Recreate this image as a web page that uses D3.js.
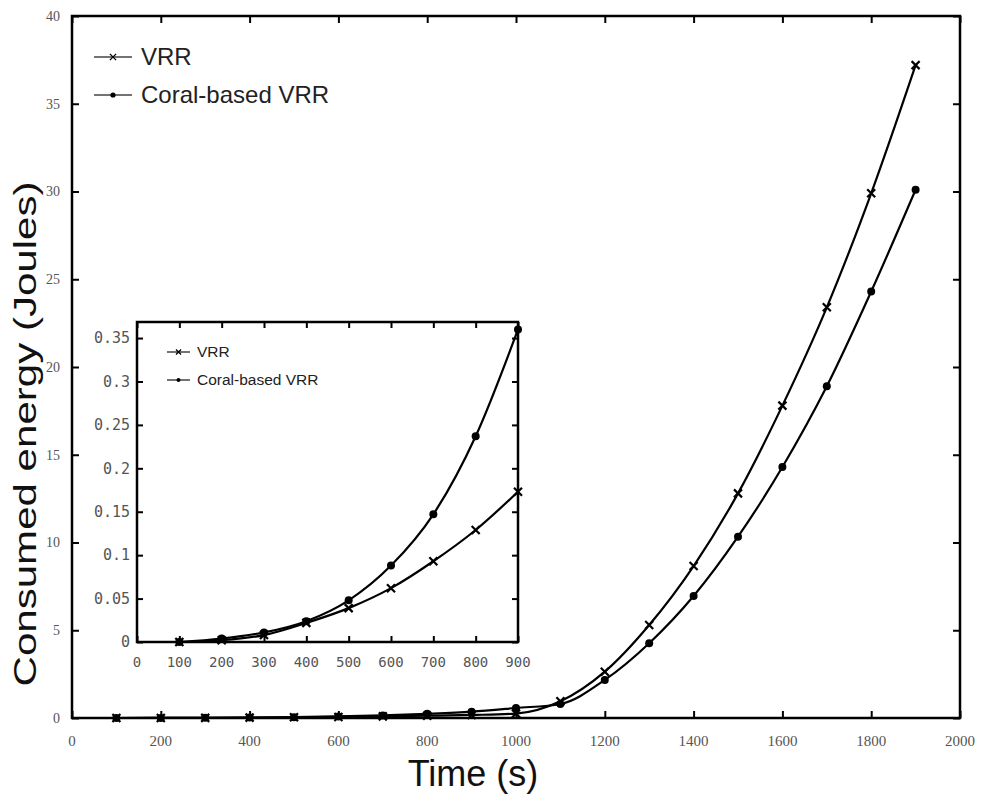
<!DOCTYPE html>
<html>
<head>
<meta charset="utf-8">
<script src="https://cdn.jsdelivr.net/npm/d3@7"></script>
<style>
  body { margin: 0; background: #fff; }
  svg { display: block; }
</style>
</head>
<body>
<div class="chart"></div>
<script>
// data
const times = [100, 200, 300, 400, 500, 600, 700, 800, 900, 1000, 1100, 1200, 1300, 1400, 1500, 1600, 1700, 1800, 1900];
const vrr   = [0, 0.002, 0.008, 0.022, 0.039, 0.062, 0.093, 0.129, 0.173, 0.25, 0.95, 2.64, 5.3, 8.66, 12.8, 17.8, 23.4, 29.9, 37.2];
const coral = [0, 0.004, 0.011, 0.024, 0.048, 0.088, 0.147, 0.237, 0.36, 0.57, 0.8, 2.17, 4.26, 6.95, 10.33, 14.3, 18.9, 24.3, 30.1];

const mainXTicks = [0, 200, 400, 600, 800, 1000, 1200, 1400, 1600, 1800, 2000];
const mainYTicks = [0, 5, 10, 15, 20, 25, 30, 35, 40];
const insetXTicks = [0, 100, 200, 300, 400, 500, 600, 700, 800, 900];
const insetYTicks = [0, 0.05, 0.1, 0.15, 0.2, 0.25, 0.3, 0.35];
const insetYLabels = ["0", "0.05", "0.1", "0.15", "0.2", "0.25", "0.3", "0.35"];

const seriesNames = ["VRR", "Coral-based VRR"];

window.onload = function () {

const svg = d3.select(".chart")
  .append("svg")
  .attr("width", 985)
  .attr("height", 794);

const rows = times.map((t, i) => ({ t: t, vrr: vrr[i], coral: coral[i] }));

const drawMarker = (g, kind, x, y, size, sw) => {
  if (kind === "x") {
    g.append("path")
      .attr("d", `M${x - size},${y - size}L${x + size},${y + size}M${x - size},${y + size}L${x + size},${y - size}`)
      .attr("stroke", "#000")
      .attr("stroke-width", sw || 2.2)
      .attr("fill", "none");
  } else {
    g.append("circle")
      .attr("cx", x).attr("cy", y).attr("r", size)
      .attr("fill", "#000");
  }
};

const drawPanel = (opt) => {
  const g = svg.append("g");
  const x = d3.scaleLinear().domain(opt.xDomain).range(opt.xRange);
  const y = d3.scaleLinear().domain(opt.yDomain).range(opt.yRange);

  g.append("rect")
    .attr("x", opt.xRange[0]).attr("y", opt.yRange[1])
    .attr("width", opt.xRange[1] - opt.xRange[0])
    .attr("height", opt.yRange[0] - opt.yRange[1])
    .attr("fill", "#fff");

  const data = rows.filter(d => d.t <= opt.xDomain[1]);

  const line = key => d3.line()
    .x(d => x(d.t))
    .y(d => y(d[key]))
    .curve(d3.curveMonotoneX);

  ["vrr", "coral"].forEach(key => {
    g.append("path")
      .datum(data)
      .attr("d", line(key))
      .attr("fill", "none")
      .attr("stroke", "#000")
      .attr("stroke-width", opt.lineWidth);
    data.forEach(d => drawMarker(g, key === "vrr" ? "x" : "o", x(d.t), y(d[key]), key === "vrr" ? opt.xSize : opt.oSize));
  });

  // frame with inward ticks on all sides
  const tl = opt.tick;
  g.append("g")
    .attr("transform", `translate(0,${opt.yRange[0]})`)
    .call(d3.axisTop(x).tickValues(opt.xTicks).tickSize(tl).tickFormat(""))
    .call(a => a.select(".domain").remove());
  g.append("g")
    .attr("transform", `translate(0,${opt.yRange[1]})`)
    .call(d3.axisBottom(x).tickValues(opt.xTicks).tickSize(tl).tickFormat(""))
    .call(a => a.select(".domain").remove());
  g.append("g")
    .attr("transform", `translate(${opt.xRange[0]},0)`)
    .call(d3.axisRight(y).tickValues(opt.yTicks).tickSize(tl).tickFormat(""))
    .call(a => a.select(".domain").remove());
  g.append("g")
    .attr("transform", `translate(${opt.xRange[1]},0)`)
    .call(d3.axisLeft(y).tickValues(opt.yTicks).tickSize(tl).tickFormat(""))
    .call(a => a.select(".domain").remove());
  g.selectAll(".tick line").attr("stroke", "#000").attr("stroke-width", 2);

  g.append("rect")
    .attr("x", opt.xRange[0]).attr("y", opt.yRange[1])
    .attr("width", opt.xRange[1] - opt.xRange[0])
    .attr("height", opt.yRange[0] - opt.yRange[1])
    .attr("fill", "none")
    .attr("stroke", "#000")
    .attr("stroke-width", 2.5);

  // tick labels
  g.selectAll(".xlab")
    .data(opt.xTicks)
    .enter()
    .append("text")
    .attr("x", d => x(d))
    .attr("y", opt.yRange[0] + opt.xLabOff)
    .attr("text-anchor", "middle")
    .attr("dy", "0.35em")
    .style("font-family", opt.tickFont)
    .style("font-size", opt.xTickSize + "px")
    .attr("fill", "#555")
    .text(d => d);

  g.selectAll(".ylab")
    .data(opt.yTicks)
    .enter()
    .append("text")
    .attr("x", opt.xRange[0] - opt.yLabOff)
    .attr("y", d => y(d))
    .attr("text-anchor", "end")
    .attr("dy", "0.35em")
    .style("font-family", opt.tickFont)
    .style("font-size", opt.yTickSize + "px")
    .attr("fill", "#555")
    .text((d, i) => opt.yLabels ? opt.yLabels[i] : d);

  // legend
  seriesNames.forEach((name, i) => {
    const ly = opt.legY + i * opt.legGap;
    g.append("line")
      .attr("x1", opt.legX).attr("x2", opt.legX + opt.legLen)
      .attr("y1", ly).attr("y2", ly)
      .attr("stroke", "#444").attr("stroke-width", 1.5);
    if (i === 0) drawMarker(g, "x", opt.legX + opt.legLen / 2, ly, opt.legMark + 0.5, 1.3);
    else drawMarker(g, "o", opt.legX + opt.legLen / 2, ly, opt.legMark);
    g.append("text")
      .attr("x", opt.legX + opt.legLen + opt.legPad)
      .attr("y", ly)
      .attr("dy", "0.35em")
      .style("font-family", opt.legFont)
      .style("font-size", opt.legSize + "px")
      .attr("fill", "#222")
      .text(name);
  });
};

// main chart
drawPanel({
  xDomain: [0, 2000], xRange: [72, 960],
  yDomain: [0, 40], yRange: [718, 16],
  xTicks: mainXTicks, yTicks: mainYTicks,
  tick: 7, lineWidth: 2.2, xSize: 4, oSize: 4,
  tickFont: "Liberation Serif", xTickSize: 15, yTickSize: 14, xLabOff: 23, yLabOff: 12,
  legX: 94, legY: 57, legGap: 38, legLen: 38, legPad: 9, legMark: 2.6,
  legFont: "Liberation Sans", legSize: 24
});

// inset
drawPanel({
  xDomain: [0, 900], xRange: [137, 518],
  yDomain: [0, 0.3685], yRange: [642, 322],
  xTicks: insetXTicks, yTicks: insetYTicks, yLabels: insetYLabels,
  tick: 6, lineWidth: 2.2, xSize: 4, oSize: 4,
  tickFont: "DejaVu Sans Mono", xTickSize: 14, yTickSize: 15, xLabOff: 20, yLabOff: 7,
  legX: 167, legY: 352, legGap: 28, legLen: 23, legPad: 7, legMark: 2,
  legFont: "Liberation Sans", legSize: 15.5
});

// axis titles
svg.append("text")
  .attr("x", 473)
  .attr("y", 773)
  .attr("dy", "0.35em")
  .attr("text-anchor", "middle")
  .style("font-family", "Liberation Sans")
  .style("font-size", "36px")
  .attr("fill", "#111")
  .text("Time (s)");

svg.append("text")
  .attr("transform", "translate(25,434) rotate(-90)")
  .attr("dy", "0.35em")
  .attr("text-anchor", "middle")
  .attr("textLength", 505)
  .attr("lengthAdjust", "spacingAndGlyphs")
  .style("font-family", "Liberation Sans")
  .style("font-size", "32px")
  .attr("fill", "#111")
  .text("Consumed energy (Joules)");

};
</script>
</body>
</html>
